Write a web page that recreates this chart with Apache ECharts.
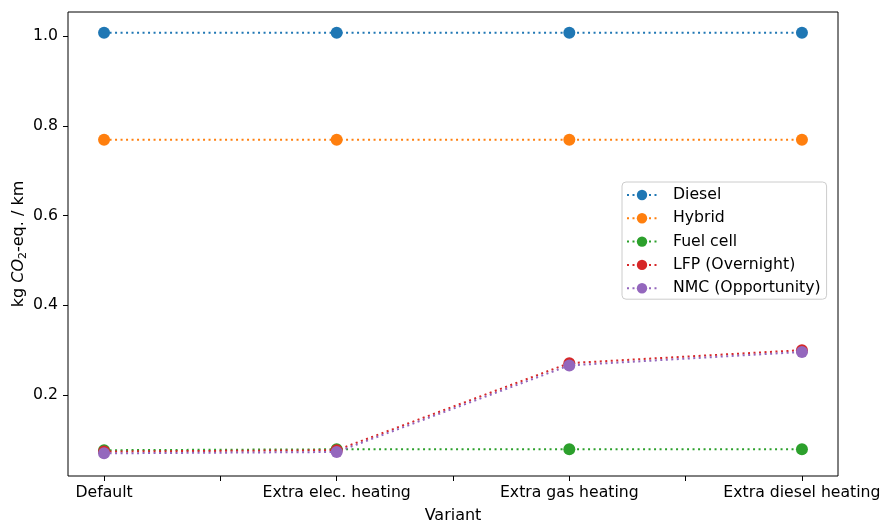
<!DOCTYPE html>
<html><head><meta charset="utf-8">
<script src="https://cdn.jsdelivr.net/npm/echarts@6/dist/echarts.min.js"></script>
<style>html,body{margin:0;padding:0;background:#fff}#c{width:883px;height:523px}</style>
</head><body><div id="c"></div>
<script>
const categories = ["Default", "Extra elec. heating", "Extra gas heating", "Extra diesel heating"];
const seriesNames = ["Diesel", "Hybrid", "Fuel cell", "LFP (Overnight)", "NMC (Opportunity)"];
const diesel = [1.007, 1.007, 1.007, 1.007];
const hybrid = [0.769, 0.769, 0.769, 0.769];
const fuelCell = [0.077, 0.079, 0.079, 0.079];
const lfp = [0.074, 0.077, 0.271, 0.300];
const nmc = [0.070, 0.073, 0.266, 0.296];
const yTicks = [0.2, 0.4, 0.6, 0.8, 1.0];
const colors = ["#1f77b4", "#ff7f0e", "#2ca02c", "#d62728", "#9467bd"];
const allValues = [diesel, hybrid, fuelCell, lfp, nmc];

const font = "DejaVu Sans";
const chart = echarts.init(document.getElementById('c'), null, {renderer: 'canvas'});
const series = seriesNames.map((n, i) => ({
  name: n, type: 'line',
  data: allValues[i].map((v, k) => [k, v]),
  symbol: 'circle', symbolSize: 12,
  itemStyle: {color: colors[i]},
  lineStyle: {color: colors[i], width: 2, type: [2, 3.5]},
  emphasis: {disabled: true},
  z: 2 + i
}));
chart.setOption({
  animation: false,
  textStyle: {fontFamily: font},
  grid: {left: 68, right: 45, top: 12, bottom: 47, show: true, borderColor: '#000', borderWidth: 1,
    containLabel: false, outerBoundsMode: 'none'},
  xAxis: {
    type: 'value', min: -0.155, max: 3.155,
    name: 'Variant', nameLocation: 'middle', nameGap: 32, nameMoveOverlap: false,
    nameTextStyle: {fontSize: 16, color: '#000', fontFamily: font},
    axisLine: {show: false, onZero: false},
    axisTick: {show: true, inside: false, length: 5, lineStyle: {color: '#000'}, customValues: [0, 0.5, 1, 1.5, 2, 2.5, 3]},
    axisLabel: {fontSize: 15.7, color: '#000', fontFamily: font, margin: 9,
      customValues: [0, 1, 2, 3], formatter: v => categories[Math.round(v)]},
    splitLine: {show: false}
  },
  yAxis: {
    type: 'value', min: 0.0195, max: 1.0535,
    name: '{a|kg }{i|CO}{s|2}{a|-eq. / km}', nameLocation: 'middle', nameGap: 39, nameRotate: 90,
    nameMoveOverlap: false,
    nameTextStyle: {fontSize: 16, color: '#000', fontFamily: font,
      rich: {
        a: {fontSize: 16, color: '#000', fontFamily: font},
        i: {fontSize: 16, color: '#000', fontFamily: font, fontStyle: 'italic'},
        s: {fontSize: 11, color: '#000', fontFamily: font, verticalAlign: 'bottom', padding: [9, 0, 0, 0]}
      }},
    axisLine: {show: false, onZero: false},
    axisTick: {show: true, inside: false, length: 5, lineStyle: {color: '#000'}, customValues: yTicks},
    axisLabel: {fontSize: 15.7, color: '#000', fontFamily: font, margin: 10,
      customValues: yTicks, formatter: v => v.toFixed(1)},
    splitLine: {show: false}
  },
  legend: {
    data: seriesNames,
    orient: 'vertical', left: 622, top: 182,
    backgroundColor: 'rgba(255,255,255,0.8)', borderColor: '#ccc', borderWidth: 1, borderRadius: 4,
    padding: [5, 6, 3, 4],
    itemWidth: 30, itemHeight: 13, itemGap: 7.3,
    textStyle: {fontSize: 15.7, color: '#000', fontFamily: font, padding: [0, 0, 0, 11]}
  },
  series: series
});
</script></body></html>
